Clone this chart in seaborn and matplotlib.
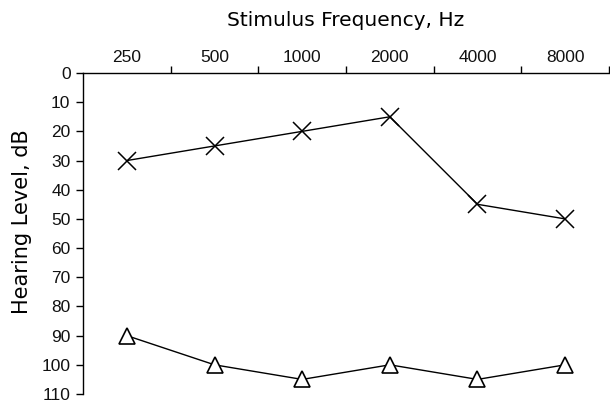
import matplotlib
matplotlib.use("Agg")
import matplotlib.pyplot as plt
import seaborn as sns
import pandas as pd
import numpy as np

freqs = ["250", "500", "1000", "2000", "4000", "8000"]
series_x = [30, 25, 20, 15, 45, 50]
series_tri = [90, 100, 105, 100, 105, 100]
yticks = list(range(0, 111, 10))

sns.set_theme(style="white")
plt.rcParams['font.family'] = ['DejaVu Sans']

fig = plt.figure(figsize=(6.10, 4.07), dpi=100)
ax = fig.add_axes([83/610, 1-394/407, (609-83)/610, (394-73)/407])

df_x = pd.DataFrame({"freq": freqs, "level": series_x})
df_t = pd.DataFrame({"freq": freqs, "level": series_tri})

sns.pointplot(data=df_x, x="freq", y="level", order=freqs, color="black",
              marker="x", markersize=13, markeredgewidth=1.1, linewidth=1.0, ax=ax)
sns.pointplot(data=df_t, x="freq", y="level", order=freqs, color="black",
              marker="^", markersize=12, markerfacecolor="white",
              markeredgewidth=1.2, linewidth=1.0, ax=ax)

ax.set_xlim(-0.5, 5.5)
ax.set_ylim(110, 0)
ax.set_yticks(yticks)
ax.set_yticklabels([str(v) for v in yticks])

ax.xaxis.tick_top()
ax.xaxis.set_label_position("top")
ax.set_xticks(range(len(freqs)))
ax.set_xticklabels(freqs)
ax.set_xticks(np.arange(0.5, 6.0, 1.0), minor=True)
ax.tick_params(axis="x", which="major", length=0, pad=6, labelsize=12.5, labelcolor="#111111")
ax.tick_params(axis="x", which="minor", top=True, bottom=False, length=5, width=1, color="black", direction="out")
ax.tick_params(axis="y", which="major", left=True, length=5, width=1, color="black",
               direction="out", pad=4, labelsize=12.5, labelcolor="#111111")
for lab in ax.get_xticklabels() + ax.get_yticklabels():
    lab.set_family(['Liberation Sans', 'DejaVu Sans'])

for s in ["right", "bottom"]:
    ax.spines[s].set_visible(False)
for s in ["top", "left"]:
    ax.spines[s].set_color("black")
    ax.spines[s].set_linewidth(1.0)

ax.set_xlabel("Stimulus Frequency, Hz", fontsize=14.5, labelpad=17, color="black")
ax.set_ylabel("Hearing Level, dB", fontsize=15, color="black")
ax.yaxis.set_label_coords(-51/526, 0.537)

fig.savefig("out.png", dpi=100, facecolor="white")
